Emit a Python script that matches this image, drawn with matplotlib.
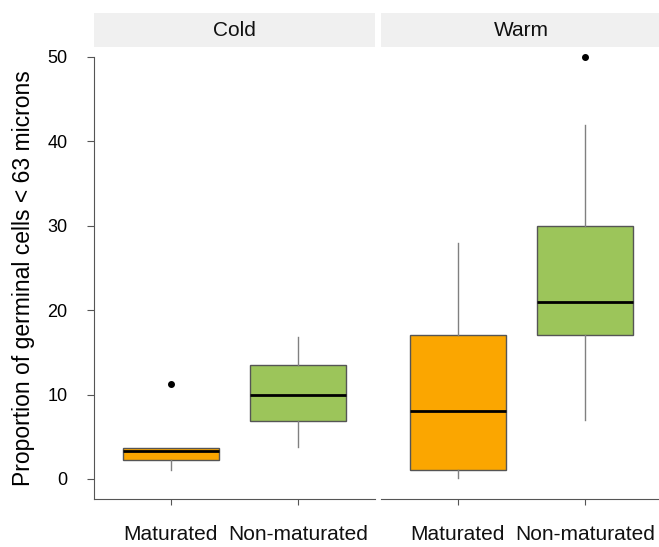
import matplotlib
matplotlib.use("Agg")
import matplotlib.pyplot as plt
from matplotlib.patches import Rectangle

plt.rcParams["font.family"] = ["Liberation Sans", "DejaVu Sans"]

# data
panels = ["Cold", "Warm"]
groups = ["Maturated", "Non-maturated"]
box_colors = ["#FBA600", "#9CC55A"]

whislo = {"Cold": [1.1, 3.8], "Warm": [0.1, 7.0]}
q1 = {"Cold": [2.3, 6.9], "Warm": [1.1, 17.1]}
med = {"Cold": [3.3, 10.0], "Warm": [8.0, 21.0]}
q3 = {"Cold": [3.7, 13.5], "Warm": [17.1, 30.0]}
whishi = {"Cold": [3.7, 16.8], "Warm": [28.0, 42.0]}
fliers = {"Cold": [[11.2], []], "Warm": [[], [50.0]]}

y_ticks = [0, 10, 20, 30, 40, 50]

W, H = 659, 547
fig = plt.figure(figsize=(W / 100, H / 100), dpi=100)

panel_left = [94, 381]
panel_w = 281
top_px, bot_px = 57, 499

for i, name in enumerate(panels):
    ax = fig.add_axes([panel_left[i] / W, 1 - bot_px / H, panel_w / W, (bot_px - top_px) / H])
    stats = []
    for j in range(len(groups)):
        stats.append(
            {
                "whislo": whislo[name][j],
                "q1": q1[name][j],
                "med": med[name][j],
                "q3": q3[name][j],
                "whishi": whishi[name][j],
                "fliers": fliers[name][j],
            }
        )
    bp = ax.bxp(
        stats,
        positions=[1, 2],
        widths=0.75,
        patch_artist=True,
        showcaps=False,
        boxprops=dict(edgecolor="#555555", linewidth=1.0),
        medianprops=dict(color="black", linewidth=2.0),
        whiskerprops=dict(color="#808080", linewidth=1.0),
        flierprops=dict(marker="o", markerfacecolor="black", markeredgecolor="black", markersize=4),
    )
    for patch, c in zip(bp["boxes"], box_colors):
        patch.set_facecolor(c)
    for f in bp["fliers"]:
        f.set_clip_on(False)

    ax.set_xlim(0.4, 2.6)
    ax.set_ylim(-2.37, 50)
    ax.set_xticks([1, 2])
    ax.set_xticklabels(groups, fontsize=15, color="#111111")
    ax.tick_params(axis="x", length=4, color="#555555", pad=15)
    for s in ["top", "right"]:
        ax.spines[s].set_visible(False)
    ax.spines["bottom"].set_color("#555555")
    ax.spines["left"].set_color("#555555")
    if i == 0:
        ax.set_yticks(y_ticks)
        ax.tick_params(axis="y", length=5, color="#555555", labelsize=13, pad=14)
        ax.set_ylabel("Proportion of germinal cells < 63 microns", fontsize=16.5, labelpad=9)
    else:
        ax.spines["left"].set_visible(False)
        ax.set_yticks([])

    # strip header
    fig.patches.append(
        Rectangle(
            (panel_left[i] / W, 1 - 47 / H),
            panel_w / W,
            34 / H,
            transform=fig.transFigure,
            facecolor="#F0F0F0",
            edgecolor="none",
        )
    )
    fig.text(
        (panel_left[i] + panel_w / 2) / W,
        1 - 30 / H,
        name,
        ha="center",
        va="center",
        fontsize=15,
        color="#111111",
    )

fig.savefig("out.png", dpi=100)
